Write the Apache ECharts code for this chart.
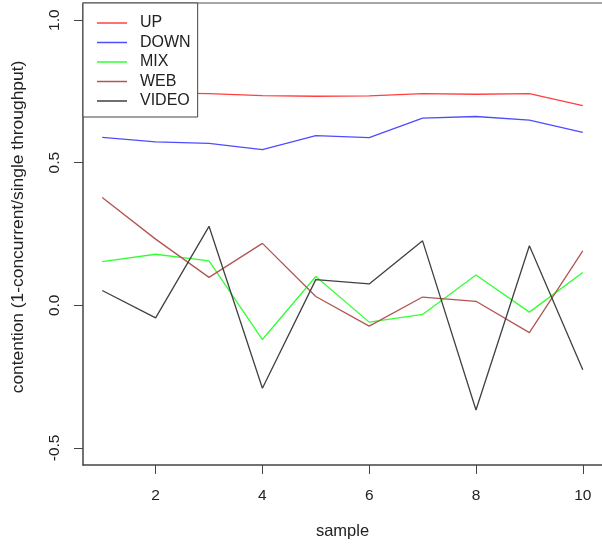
<!DOCTYPE html>
<html>
<head>
<meta charset="utf-8">
<script src="https://cdn.jsdelivr.net/npm/echarts@6/dist/echarts.min.js"></script>
<style>
  html, body { margin: 0; padding: 0; background: #fff; }
  #chart { width: 602px; height: 545px; }
</style>
</head>
<body>
<div id="chart"></div>
<script>
// Contention per sample for each traffic type
const sample = [1, 2, 3, 4, 5, 6, 7, 8, 9, 10];
const up    = [0.750, 0.745, 0.742, 0.735, 0.733, 0.734, 0.742, 0.740, 0.742, 0.700];
const down  = [0.589, 0.573, 0.568, 0.546, 0.595, 0.588, 0.656, 0.662, 0.649, 0.606];
const mix   = [0.153, 0.179, 0.156, -0.120, 0.101, -0.059, -0.032, 0.106, -0.024, 0.115];
const web   = [0.378, 0.232, 0.098, 0.217, 0.031, -0.073, 0.029, 0.014, -0.096, 0.191];
const video = [0.052, -0.044, 0.277, -0.291, 0.090, 0.075, 0.226, -0.367, 0.209, -0.226];

const xTicks = [2, 4, 6, 8, 10];
const yTicks = [-0.5, 0.0, 0.5, 1.0];

const seriesDefs = [
  { name: 'UP', values: up, color: '#ff4040' },
  { name: 'DOWN', values: down, color: '#4d4dff' },
  { name: 'MIX', values: mix, color: '#33ff33' },
  { name: 'WEB', values: web, color: '#b25555' },
  { name: 'VIDEO', values: video, color: '#404040' }
];

const FONT = '"Liberation Sans", Arial, sans-serif';
const TEXT = '#222';

const chart = echarts.init(document.getElementById('chart'), null, { renderer: 'canvas' });

chart.setOption({
  animation: false,
  backgroundColor: '#fff',
  textStyle: { fontFamily: FONT },
  grid: { left: 83, top: 3, width: 522.6, height: 463 },
  legend: {
    show: true,
    orient: 'vertical',
    left: 83,
    top: 3,
    padding: [12, 7, 8, 14],
    itemWidth: 30,
    itemHeight: 14,
    itemGap: 3.5,
    icon: 'path://M0,0 L30,0 L30,1.5 L0,1.5 Z',
    backgroundColor: '#fff',
    borderColor: '#444',
    borderWidth: 1,
    textStyle: { fontFamily: FONT, fontSize: 16, lineHeight: 14, color: TEXT, padding: [0, 0, 0, 8] },
    data: seriesDefs.map(s => s.name)
  },
  xAxis: [
    {
      type: 'value',
      position: 'bottom',
      min: 0.64,
      max: 10.36,
      splitLine: { show: false },
      axisLine: { show: true, onZero: false, lineStyle: { color: '#444', width: 1.5 } },
      axisTick: { show: true, length: 9, customValues: xTicks, lineStyle: { color: '#444' } },
      axisLabel: { customValues: xTicks, margin: 23, fontSize: 15.5, color: TEXT, fontFamily: FONT },
      name: 'sample',
      nameLocation: 'middle',
      nameGap: 58,
      nameTextStyle: { fontSize: 16.5, color: TEXT, fontFamily: FONT }
    },
    {
      type: 'value',
      position: 'top',
      min: 0.64,
      max: 10.36,
      splitLine: { show: false },
      axisLine: { show: true, onZero: false, lineStyle: { color: '#a6a6a6', width: 2 } },
      axisTick: { show: false },
      axisLabel: { show: false }
    }
  ],
  yAxis: {
    type: 'value',
    min: -0.56,
    max: 1.06,
    splitLine: { show: false },
    axisLine: { show: true, onZero: false, lineStyle: { color: '#444', width: 1.5 } },
    axisTick: { show: true, length: 9, customValues: yTicks, lineStyle: { color: '#444' } },
    axisLabel: {
      customValues: yTicks,
      rotate: 90,
      margin: 20,
      fontSize: 15.5,
      color: TEXT,
      fontFamily: FONT,
      formatter: v => v.toFixed(1)
    },
    name: 'contention (1-concurrent/single throughput)',
    nameLocation: 'middle',
    nameGap: 56,
    nameTextStyle: { fontSize: 17.4, color: TEXT, fontFamily: FONT, padding: [0, 0, 0, 14] }
  },
  series: seriesDefs.map(s => ({
    name: s.name,
    type: 'line',
    xAxisIndex: 0,
    symbol: 'none',
    data: sample.map((x, i) => [x, s.values[i]]),
    lineStyle: { color: s.color, width: 1.3 },
    itemStyle: { color: s.color }
  }))
});
</script>
</body>
</html>
